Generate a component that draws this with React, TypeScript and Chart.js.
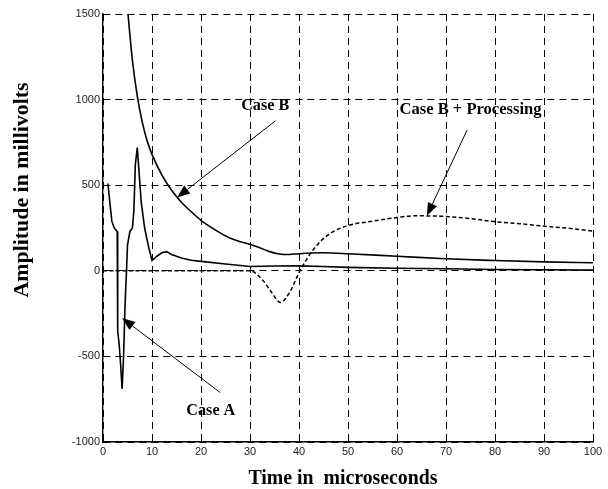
import React, { useEffect, useRef } from "react";
import { Chart, registerables } from "chart.js";

Chart.register(...registerables);

const xTicks = [0, 10, 20, 30, 40, 50, 60, 70, 80, 90, 100];
const yTicks = [-1000, -500, 0, 500, 1000, 1500];

const caseBTime = [5.1, 6, 7, 8, 9, 10, 12, 14, 16, 18, 20, 22, 24, 26, 28, 30, 32, 34, 36, 38, 40, 45, 50, 60, 70, 80, 90, 100];
const caseBValue = [1500, 1230, 1020, 870, 760, 680, 560, 470, 400, 345, 295, 255, 220, 190, 170, 155, 135, 112, 98, 95, 100, 105, 100, 85, 70, 60, 52, 47];

const caseATime = [1.0, 1.4, 1.8, 2.3, 2.9, 3.0, 3.3, 3.6, 3.9, 4.2, 4.5, 4.8, 5.0, 5.5, 6.0, 6.3, 6.6, 7.0, 7.3, 7.8, 8.5, 9.3, 10, 11, 12, 13, 14, 16, 18, 20, 25, 30, 35, 40, 45, 50, 60, 70, 80, 90, 100];
const caseAValue = [510, 400, 290, 250, 230, -350, -430, -550, -690, -500, -200, 0, 150, 230, 250, 350, 620, 720, 600, 400, 250, 140, 60, 85, 105, 112, 95, 75, 62, 55, 40, 25, 28, 29, 25, 20, 15, 12, 8, 6, 4];

const procTime = [0, 10, 20, 28, 30, 32.7, 34.5, 36.2, 38, 40.2, 42.3, 44.5, 46.7, 49.8, 55, 60, 63.3, 69.5, 75, 79.7, 85, 89.2, 95, 99.4, 100];
const procValue = [0, 0, 0, 0, 0, -58, -130, -185, -130, 0, 99, 175, 224, 263, 290, 311, 321, 318, 305, 288, 275, 263, 248, 234, 232];

const labelTexts = ["Case B", "Case B + Processing", "Case A"];
const labelAnchors = [
  { x: 33.1, y: 964 },
  { x: 75, y: 944 },
  { x: 22, y: -814 },
];
const arrowFrom = [
  { x: 35.2, y: 876 },
  { x: 74.3, y: 822 },
  { x: 23.9, y: -711 },
];
const arrowTo = [
  { x: 15.1, y: 428 },
  { x: 66.1, y: 321 },
  { x: 3.9, y: -276 },
];
const labelWidths = [48, 142, 49];

const xTitle = "Time in  microseconds";
const yTitle = "Amplitude in millivolts";

function zip(xs: number[], ys: number[]) {
  return xs.map((x, i) => ({ x, y: ys[i] }));
}

function fitText(ctx: CanvasRenderingContext2D, text: string, cx: number, cy: number, w: number, rot: number) {
  const m = ctx.measureText(text).width;
  const sx = w / m;
  ctx.save();
  ctx.translate(cx, cy);
  ctx.rotate(rot);
  ctx.scale(sx, 1);
  ctx.fillText(text, 0, 0);
  ctx.restore();
}

const annotationPlugin = {
  id: "annots",
  afterDatasetsDraw(chart: any) {
    const ctx = chart.ctx as CanvasRenderingContext2D;
    const xs = chart.scales.x;
    const ys = chart.scales.y;
    ctx.save();
    ctx.fillStyle = "#000";
    ctx.strokeStyle = "#000";
    ctx.font = "bold 17px 'Liberation Serif', 'Times New Roman', serif";
    ctx.textAlign = "center";
    ctx.textBaseline = "middle";
    labelTexts.forEach((t, i) => {
      const px = xs.getPixelForValue(labelAnchors[i].x);
      const py = ys.getPixelForValue(labelAnchors[i].y);
      fitText(ctx, t, px, py, labelWidths[i], 0);
      const x1 = xs.getPixelForValue(arrowFrom[i].x);
      const y1 = ys.getPixelForValue(arrowFrom[i].y);
      const x2 = xs.getPixelForValue(arrowTo[i].x);
      const y2 = ys.getPixelForValue(arrowTo[i].y);
      const ang = Math.atan2(y2 - y1, x2 - x1);
      const hl = 13;
      const hw = 5;
      const bx = x2 - hl * Math.cos(ang);
      const by = y2 - hl * Math.sin(ang);
      ctx.lineWidth = 1;
      ctx.beginPath();
      ctx.moveTo(x1, y1);
      ctx.lineTo(bx, by);
      ctx.stroke();
      ctx.beginPath();
      ctx.moveTo(x2, y2);
      ctx.lineTo(bx + hw * Math.sin(ang), by - hw * Math.cos(ang));
      ctx.lineTo(bx - hw * Math.sin(ang), by + hw * Math.cos(ang));
      ctx.closePath();
      ctx.fill();
    });
    ctx.font = "bold 20px 'Liberation Serif', 'Times New Roman', serif";
    fitText(ctx, xTitle, 343, 479, 189, 0);
    fitText(ctx, yTitle, 23, 190, 215, -Math.PI / 2);
    ctx.restore();
  },
};

export default function App() {
  const ref = useRef<HTMLCanvasElement | null>(null);
  useEffect(() => {
    if (!ref.current) return;
    const tickFont = { family: "'Liberation Sans', Arial, sans-serif", size: 11 };
    const chart = new Chart(ref.current, {
      type: "line",
      data: {
        datasets: [
          {
            label: "Case B + Processing",
            data: zip(procTime, procValue),
            borderColor: "#000",
            borderWidth: 1.5,
            borderDash: [4, 2.5],
            pointRadius: 0,
            fill: false,
            cubicInterpolationMode: "monotone",
          },
          {
            label: "Case B",
            data: zip(caseBTime, caseBValue),
            borderColor: "#000",
            borderWidth: 1.6,
            pointRadius: 0,
            fill: false,
            cubicInterpolationMode: "monotone",
          },
          {
            label: "Case A",
            data: zip(caseATime, caseAValue),
            borderColor: "#000",
            borderWidth: 1.6,
            pointRadius: 0,
            fill: false,
            tension: 0,
          },
        ],
      },
      options: {
        animation: false,
        responsive: false,
        maintainAspectRatio: false,
        layout: { padding: { left: 0, right: 15, top: 14, bottom: 0 } },
        plugins: { legend: { display: false }, tooltip: { enabled: false } },
        scales: {
          x: {
            type: "linear",
            min: 0,
            max: 100,
            afterBuildTicks: (s: any) => {
              s.ticks = xTicks.map((v) => ({ value: v }));
            },
            afterFit: (s: any) => {
              s.height = 47;
            },
            ticks: { font: tickFont, color: "#222", padding: 3, maxRotation: 0, autoSkip: false, callback: (v: any) => String(v) },
            grid: { color: "#000", lineWidth: 1, drawTicks: false },
            border: { display: true, color: "#000", width: 1.4, dash: [7, 5] },
          },
          y: {
            type: "linear",
            min: -1000,
            max: 1500,
            afterBuildTicks: (s: any) => {
              s.ticks = yTicks.map((v) => ({ value: v }));
            },
            afterFit: (s: any) => {
              s.width = 103;
            },
            ticks: { font: tickFont, color: "#222", padding: 3, autoSkip: false, callback: (v: any) => String(v) },
            grid: { color: "#000", lineWidth: 1, drawTicks: false },
            border: { display: true, color: "#000", width: 1.4, dash: [7, 5] },
          },
        },
      },
      plugins: [annotationPlugin],
    } as any);
    return () => chart.destroy();
  }, []);
  return (
    <div style={{ position: "fixed", left: 0, top: 0, width: 608, height: 489, background: "#fff" }}>
      <canvas ref={ref} width={608} height={489} style={{ width: 608, height: 489 }} />
    </div>
  );
}
